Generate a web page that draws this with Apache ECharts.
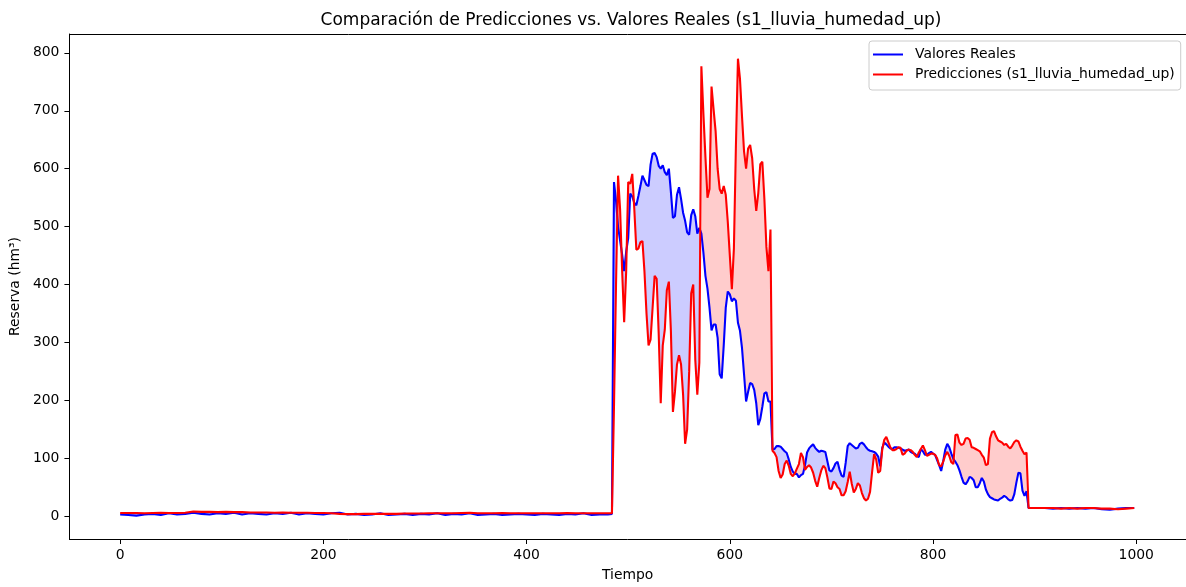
<!DOCTYPE html>
<html><head><meta charset="utf-8">
<script src="https://cdn.jsdelivr.net/npm/echarts@6/dist/echarts.min.js"></script>
<style>html,body{margin:0;padding:0;background:#fff;overflow:hidden}#c{width:1186px;height:587px}</style>
</head><body><div id="c"></div>
<script>
// ---- Data ----
const tiempoInicio = [
  0,8,16,24,32,40,48,56,64,72,
  80,88,96,104,112,120,128,136,144,152,
  160,168,176,184,192,200,208,216,224,232,
  240,248,256,264,272,280,288,296,304,312,
  320,328,336,344,352,360,368,376,384,392,
  400,408,416,424,432,440,448,456,464,472,
  480];
const realesInicio = [
  3,2,1,3,4,2,5,3,4,6,
  4,3,5,4,6,3,5,4,3,5,
  4,6,3,5,4,3,5,6,3,4,
  2,3,5,2,3,4,2,4,3,5,
  2,4,3,5,2,3,4,2,3,4,
  3,2,4,3,2,4,3,5,2,3,
  3];
const prediccionesInicio = [
  5.5,5.5,5.5,5,5.5,6,5.5,5.5,6,8,
  7.5,7.5,7,7.5,7,7,6.5,6.5,6.5,6,
  6.5,6,6,6,5.5,5.5,5,4,3.5,3.5,
  4,4,4,4,4,4.5,4.5,4.5,5,5,
  5,5,5.5,6,5,5,5,5.5,5,5,
  5,5,5,5,5,5.5,5,5,5,5,
  5];

const tiempoMedio = [
  484,486,488,490,492,494,496,498,500,502,
  504,506,508,510,512,514,516,518,520,522,
  524,526,528,530,532,534,536,538,540,542,
  544,546,548,550,552,554,556,558,560,562,
  564,566,568,570,572,574,576,578,580,582,
  584,586,588,590,592,594,596,598,600,602,
  604,606,608,610,612,614,616,618,620,622,
  624,626,628,630,632,634,636,638,640,642,
  644,646,648,650,652,654,656,658,660,662,
  664,666,668,670,672,674,676,678,680,682,
  684,686,688,690,692,694,696,698,700,702,
  704,706,708,710,712,714,716,718,720,722,
  724,726,728,730,732,734,736,738,740,742,
  744,746,748,750,752,754,756,758,760,762,
  764,766,768,770,772,774,776,778,780,782,
  784,786,788,790,792,794,796,798,800,802,
  804,806,808,810,812,814,816,818,820,822,
  824,826,828,830,832,834,836,838,840,842,
  844,846,848,850,852,854,856,858,860,862,
  864,866,868,870,872,874,876,878,880,882,
  884,886,888,890,892,894];
const realesMedio = [
  4,577,545,500,476,452,423,457,480,557,
  552,541,537,553,570,588,580,572,570,607,
  626,627,620,605,600,606,594,589,600,560,
  515,518,555,568,548,524,510,490,486,520,
  530,518,488,498,488,455,415,393,360,321,
  331,331,308,245,238,295,360,388,383,371,
  376,372,334,320,290,245,198,215,230,228,
  218,195,157,168,189,212,214,198,198,115,
  116,121,121,120,116,112,109,98,85,77,
  73,73,67,71,73,88,110,117,121,124,
  118,114,111,113,112,111,95,79,77,83,
  91,94,80,70,68,92,121,126,123,120,
  117,118,125,127,124,119,115,113,112,111,
  108,103,86,118,127,124,120,117,116,119,
  119,118,117,115,113,114,115,111,109,108,
  104,102,116,112,106,106,109,111,108,106,
  97,88,78,95,115,125,119,108,99,94,
  88,79,68,58,55,60,68,66,62,50,
  50,57,66,60,46,38,33,31,29,28,
  27,30,32,35,33,29,27,28,38,58,
  75,74,44,35,43,14];
const prediccionesMedio = [
  5,190,400,588,530,425,335,423,577,574,
  591,530,460,462,473,475,422,350,295,305,
  360,415,410,315,195,295,322,390,405,320,
  180,215,262,278,262,210,125,150,250,385,
  400,270,210,265,777,695,620,550,565,742,
  703,665,600,565,557,570,555,508,450,392,
  462,640,790,755,690,630,600,635,641,618,
  565,527,558,608,612,548,465,423,495,113,
  109,102,78,66,72,90,96,87,73,69,
  74,82,90,109,102,80,85,88,84,75,
  61,51,66,79,87,83,67,48,47,60,
  57,50,47,36,36,43,59,77,56,41,
  47,57,53,40,31,27,30,42,76,107,
  98,75,78,115,132,137,128,119,114,114,
  116,119,118,106,108,113,115,114,111,106,
  102,110,116,122,114,104,106,108,108,106,
  100,88,86,94,105,111,104,93,90,140,
  141,127,123,125,134,135,132,119,118,116,
  114,112,106,101,88,90,134,145,147,138,
  131,129,127,123,125,120,117,122,128,131,
  129,120,113,107,110,14];

const tiempoFinal = [902,910,918,926,934,942,950,958,966,974,982,990,998];
const realesFinal = [14,14,13,14,13,14,13,14,12,11,13,14,14];
const prediccionesFinal = [14,14,14,13,14,13,14,14,13,13,12,13,14];

const ticksTiempo = [0,200,400,600,800,1000];
const ticksReserva = [0,100,200,300,400,500,600,700,800];

const nombreReal = 'Valores Reales';
const nombrePred = 'Predicciones (s1_lluvia_humedad_up)';
const titulo = 'Comparación de Predicciones vs. Valores Reales (s1_lluvia_humedad_up)';

// ---- Build series ----
const tiempo = tiempoInicio.concat(tiempoMedio, tiempoFinal);
const reales = realesInicio.concat(realesMedio, realesFinal);
const preds = prediccionesInicio.concat(prediccionesMedio, prediccionesFinal);

const serieReal = tiempo.map((t, i) => [t, reales[i]]);
const seriePred = tiempo.map((t, i) => [t, preds[i]]);

// Runs of consecutive samples where one series stays above the other (fill_between with where=)
const tramos = [];
let actual = null;
for (let i = 0; i < tiempo.length; i++) {
  const s = Math.sign(reales[i] - preds[i]);
  if (actual && s === actual.signo) {
    actual.idx.push(i);
  } else {
    if (actual && actual.idx.length > 1) tramos.push(actual);
    actual = s !== 0 ? {signo: s, idx: [i]} : null;
  }
}
if (actual && actual.idx.length > 1) tramos.push(actual);

const FONT = '"DejaVu Sans", sans-serif';
const chart = echarts.init(document.getElementById('c'), null, {renderer: 'canvas'});

const xRange = {min: -49.95, max: 1048.95};

chart.setOption({
  animation: false,
  backgroundColor: '#fff',
  grid: {left: 66, top: 34, width: 1121, height: 509, show: false},
  graphic: [{
    type: 'text', x: 631, y: 21,
    style: {text: titulo, font: '17px ' + FONT, fill: '#000',
            textAlign: 'center', textVerticalAlign: 'middle'}
  }],
  legend: {
    data: [
      {name: nombreReal, icon: 'rect'},
      {name: nombrePred, icon: 'rect'}
    ],
    orient: 'vertical', left: 869, top: 41,
    padding: [6, 6, 8, 4], itemGap: 5, itemWidth: 30, itemHeight: 2,
    backgroundColor: 'rgba(255,255,255,0.8)', borderColor: '#cccccc',
    borderWidth: 1, borderRadius: 3,
    textStyle: {fontSize: 13.9, fontFamily: FONT, color: '#000',
                padding: [0, 0, 0, 7], lineHeight: 15}
  },
  xAxis: [{
    type: 'value', min: xRange.min, max: xRange.max, position: 'bottom',
    name: 'Tiempo', nameLocation: 'middle', nameGap: 29,
    nameTextStyle: {fontSize: 13.9, fontFamily: FONT, color: '#000'},
    axisLine: {show: true, onZero: false, lineStyle: {color: '#000', width: 1}},
    axisTick: {show: true, length: 5, inside: false, customValues: ticksTiempo,
               lineStyle: {color: '#000', width: 1}},
    axisLabel: {customValues: ticksTiempo, margin: 9, fontSize: 13.9,
                fontFamily: FONT, color: '#000', formatter: v => String(v)},
    splitLine: {show: false}
  }, {
    type: 'value', min: xRange.min, max: xRange.max, position: 'top',
    axisLine: {show: true, onZero: false, lineStyle: {color: '#000', width: 1}},
    axisTick: {show: false}, axisLabel: {show: false}, splitLine: {show: false}
  }],
  yAxis: {
    type: 'value', min: -39.4, max: 832.6,
    name: 'Reserva (hm³)', nameLocation: 'middle', nameGap: 44, nameRotate: 90,
    nameTextStyle: {fontSize: 13.9, fontFamily: FONT, color: '#000'},
    axisLine: {show: true, onZero: false, lineStyle: {color: '#000', width: 1}},
    axisTick: {show: true, length: 5, inside: false, customValues: ticksReserva,
               lineStyle: {color: '#000', width: 1}},
    axisLabel: {customValues: ticksReserva, margin: 10, fontSize: 13.9,
                fontFamily: FONT, color: '#000', formatter: v => String(v)},
    splitLine: {show: false}
  },
  series: [
    {
      name: '_relleno', type: 'custom', silent: true, z: 1,
      data: tramos.map(tr => [tiempo[tr.idx[0]], reales[tr.idx[0]]]),
      encode: {x: 0, y: 1},
      renderItem: function (params, api) {
        const tr = tramos[params.dataIndex];
        const arriba = tr.idx.map(i => api.coord([tiempo[i], reales[i]]));
        const abajo = tr.idx.slice().reverse().map(i => api.coord([tiempo[i], preds[i]]));
        return {
          type: 'polygon',
          shape: {points: arriba.concat(abajo)},
          style: {fill: tr.signo > 0 ? 'rgba(0,0,255,0.2)' : 'rgba(255,0,0,0.2)', stroke: null}
        };
      }
    },
    {name: nombreReal, type: 'line', data: serieReal, symbol: 'none', showSymbol: false, z: 3,
     lineStyle: {color: '#0000ff', width: 2.08}, itemStyle: {color: '#0000ff'}},
    {name: nombrePred, type: 'line', data: seriePred, symbol: 'none', showSymbol: false, z: 4,
     lineStyle: {color: '#ff0000', width: 2.08}, itemStyle: {color: '#ff0000'}}
  ]
});
</script>
</body></html>
